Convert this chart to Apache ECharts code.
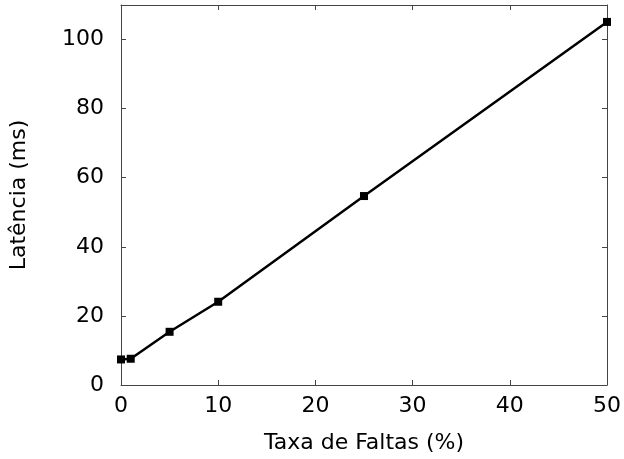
<!DOCTYPE html>
<html>
<head>
<meta charset="utf-8">
<script src="https://cdn.jsdelivr.net/npm/echarts@6/dist/echarts.min.js"></script>
<style>
  html, body { margin: 0; padding: 0; background: #fff; }
  #chart { width: 624px; height: 459px; }
</style>
</head>
<body>
<div id="chart"></div>
<script>
// fault rate (%) vs latency (ms)
const faultRate = [0, 1, 5, 10, 25, 50];
const latency = [7.4, 7.6, 15.4, 24.1, 54.7, 105.1];
const xTicks = { min: 0, max: 50, step: 10 };
const yTicks = { min: 0, max: 110, step: 20 };

const font = 'DejaVu Sans';
const frame = '#444';

let chart = echarts.init(document.getElementById('chart'));

function mirrorAxis(extra) {
  return Object.assign({
    type: 'value',
    axisLine: { show: true, onZero: false, lineStyle: { color: frame, width: 1 } },
    axisTick: { show: true, inside: true, length: 5, lineStyle: { color: frame } },
    axisLabel: { show: false },
    splitLine: { show: false }
  }, extra);
}

chart.setOption({
  animation: false,
  grid: { left: 120, right: 14, top: 5, bottom: 72 },
  xAxis: [
    {
      type: 'value',
      min: xTicks.min, max: xTicks.max, interval: xTicks.step,
      name: 'Taxa de Faltas (%)',
      nameLocation: 'middle',
      nameGap: 47,
      nameTextStyle: { fontFamily: font, fontSize: 22, color: '#000' },
      axisLine: { show: true, onZero: false, lineStyle: { color: frame, width: 1 } },
      axisTick: { show: true, inside: true, length: 5, lineStyle: { color: frame } },
      axisLabel: { fontFamily: font, fontSize: 22, color: '#000', margin: 10 },
      splitLine: { show: false }
    },
    mirrorAxis({ position: 'top', min: xTicks.min, max: xTicks.max, interval: xTicks.step })
  ],
  yAxis: [
    {
      type: 'value',
      min: yTicks.min, max: yTicks.max, interval: yTicks.step,
      name: 'Latência (ms)',
      nameLocation: 'middle',
      nameGap: 91,
      nameTextStyle: { fontFamily: font, fontSize: 22, color: '#000' },
      axisLine: { show: true, onZero: false, lineStyle: { color: frame, width: 1 } },
      axisTick: { show: true, inside: true, length: 5, lineStyle: { color: frame } },
      axisLabel: { fontFamily: font, fontSize: 22, color: '#000', margin: 17, showMaxLabel: false },
      splitLine: { show: false }
    },
    mirrorAxis({ position: 'right', min: yTicks.min, max: yTicks.max, interval: yTicks.step })
  ],
  series: [{
    type: 'line',
    data: faultRate.map((x, i) => [x, latency[i]]),
    symbol: 'rect',
    symbolSize: 8,
    lineStyle: { color: '#000', width: 2.5 },
    itemStyle: { color: '#000' }
  }]
});
</script>
</body>
</html>
